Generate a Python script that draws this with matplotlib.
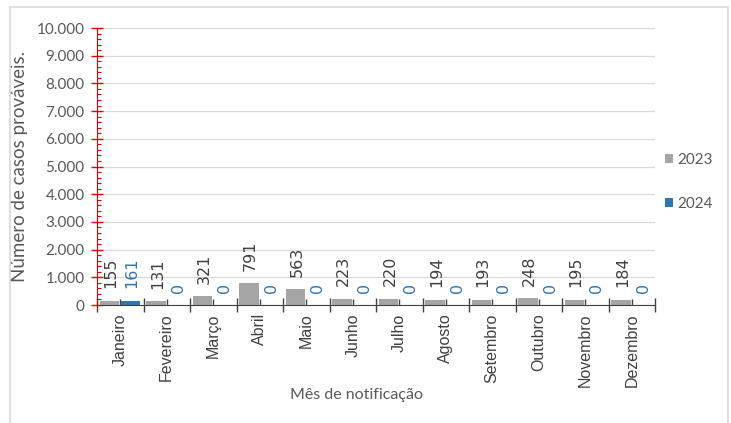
import numpy as np
import matplotlib.pyplot as plt
from matplotlib.patches import Rectangle
from matplotlib.ticker import MultipleLocator, FuncFormatter

meses = ['Janeiro', 'Fevereiro', 'Março', 'Abril', 'Maio', 'Junho', 'Julho',
         'Agosto', 'Setembro', 'Outubro', 'Novembro', 'Dezembro']
casos_2023 = [155, 131, 321, 791, 563, 223, 220, 194, 193, 248, 195, 184]
casos_2024 = [161, 0, 0, 0, 0, 0, 0, 0, 0, 0, 0, 0]

cinza = '#a5a5a5'
azul = '#2e75b6'
texto = '#595959'

plt.rcParams['font.family'] = ['Lato', 'DejaVu Sans']

fig = plt.figure(figsize=(7.31, 4.23), dpi=100)
# moldura do gráfico (a borda de baixo fica fora da imagem)
fig.patches.append(Rectangle((10 / 731, -0.05), 718 / 731, 1.05 - 7 / 423,
                             transform=fig.transFigure, fill=False,
                             edgecolor='#d9d9d9', linewidth=1.2))
ax = fig.add_axes([97 / 731, 1 - 305 / 423, 558 / 731, 277 / 423])

x = np.arange(len(meses))
w = 0.42
b1 = ax.bar(x - 0.23, casos_2023, w, color=cinza, label='2023', zorder=3)
b2 = ax.bar(x + 0.22, casos_2024, w, color=azul, label='2024', zorder=3)

for rects, cor in ((b1, '#404040'), (b2, azul)):
    for r in rects:
        ax.annotate(f'{int(r.get_height())}',
                    (r.get_x() + r.get_width() / 2, r.get_height()),
                    xytext=(1, 9), textcoords='offset points',
                    rotation=90, ha='center', va='bottom',
                    fontsize=11.5, color=cor, family='DejaVu Sans')

ax.set_xlim(-0.5, len(meses) - 0.5)
ax.set_ylim(0, 10000)
ax.yaxis.set_major_locator(MultipleLocator(1000))
ax.yaxis.set_minor_locator(MultipleLocator(200))
ax.yaxis.set_major_formatter(FuncFormatter(lambda v, p: f'{int(v):,}'.replace(',', '.')))
ax.grid(axis='y', color='#d9d9d9', linewidth=0.9, zorder=0)

ax.set_xticks(np.arange(-0.5, len(meses), 1.0))
ax.set_xticklabels([''] * (len(meses) + 1))
ax.set_xticks(x, minor=True)
ax.tick_params(axis='x', which='major', direction='inout', length=10, color='#404040', width=1)
ax.tick_params(axis='x', which='minor', direction='in', length=4, color='#404040', width=1)
for xi, m in zip(x, meses):
    ax.text(xi, -300, m, rotation=90, ha='center', va='top', fontsize=11.5,
            color='#404040', family='Liberation Sans')

ax.tick_params(axis='y', which='major', direction='inout', length=8, color='#e00000',
               width=1, labelsize=11, labelcolor=texto, pad=5)
ax.tick_params(axis='y', which='minor', direction='in', length=3, color='#e00000', width=0.8)

for s in ('top', 'right'):
    ax.spines[s].set_visible(False)
ax.spines['left'].set_color('#e00000')
ax.spines['bottom'].set_color('#404040')
ax.spines['bottom'].set_zorder(4)

ax.set_ylabel('Número de casos prováveis.', fontsize=13.5, color=texto)
ax.yaxis.set_label_coords((28 - 97) / 558, 0.5)
fig.text(357 / 731, 1 - 395 / 423, 'Mês de notificação', ha='center', va='center',
         fontsize=11.5, color=texto)

fig.legend(handles=[b1, b2], labels=['2023', '2024'], loc='center left',
           bbox_to_anchor=(665 / 731, 1 - 182 / 423), frameon=False, borderpad=0,
           borderaxespad=0, handlelength=0.55, handleheight=0.55, handletextpad=0.25,
           labelspacing=2.0, fontsize=11, labelcolor=texto)

fig.savefig('out.png', dpi=100)
